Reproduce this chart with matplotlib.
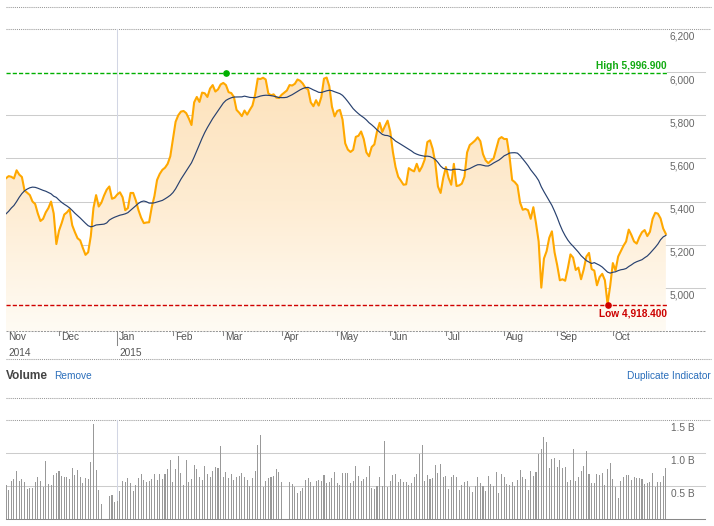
import numpy as np
import pandas as pd
import matplotlib
matplotlib.use('Agg')
import matplotlib.pyplot as plt
from matplotlib.colors import LinearSegmentedColormap
from matplotlib.lines import Line2D

plt.rcParams['font.family'] = ['Liberation Sans', 'DejaVu Sans']

# daily closes, Nov 2014 - Oct 2015
close = [
    5508, 5518, 5515, 5507, 5545, 5525, 5514, 5451, 5441, 5430,
    5400, 5389, 5345, 5310, 5320, 5350, 5370, 5400, 5345, 5203,
    5265, 5300, 5340, 5350, 5365, 5290, 5258, 5230, 5220, 5185,
    5153, 5165, 5240, 5370, 5430, 5377, 5395, 5428, 5455, 5470,
    5413, 5418, 5433, 5443, 5420, 5360, 5370, 5440, 5440, 5405,
    5360, 5325, 5300, 5303, 5304, 5374, 5425, 5500, 5528, 5547,
    5557, 5575, 5610, 5690, 5770, 5800, 5817, 5820, 5810, 5785,
    5755, 5860, 5885, 5862, 5905, 5902, 5885, 5924, 5940, 5910,
    5920, 5943, 5950, 5940, 5907, 5903, 5885, 5825, 5812, 5796,
    5822, 5803, 5825, 5845, 5895, 5970, 5968, 5974, 5966, 5901,
    5893, 5897, 5882, 5880, 5895, 5905, 5915, 5940, 5938, 5946,
    5966, 5960, 5947, 5927, 5920, 5860, 5842, 5870, 5845, 5885,
    5970, 5975, 5935, 5840, 5795, 5820, 5825, 5780, 5670, 5641,
    5630, 5640, 5700, 5705, 5725, 5690, 5628, 5610, 5653, 5665,
    5725, 5765, 5723, 5750, 5775, 5725, 5630, 5560, 5515, 5497,
    5478, 5480, 5555, 5546, 5540, 5575, 5540, 5562, 5595, 5676,
    5684, 5645, 5580, 5470, 5440, 5510, 5560, 5510, 5478, 5575,
    5472, 5475, 5483, 5515, 5628, 5662, 5672, 5683, 5698, 5680,
    5620, 5591, 5578, 5590, 5600, 5645, 5690, 5699, 5690, 5690,
    5610, 5500, 5490, 5475, 5395, 5362, 5366, 5360, 5320, 5374,
    5300, 5215, 5001, 5136, 5170, 5232, 5262, 5165, 5105, 5035,
    5040, 5033, 5090, 5155, 5140, 5083, 5094, 5040, 5085, 5145,
    5162, 5087, 5080, 5012, 5050, 5065, 5035, 4925, 5010, 5115,
    5080, 5145, 5170, 5195, 5215, 5270, 5245, 5215, 5205, 5235,
    5258, 5268, 5240, 5260, 5320, 5348, 5344, 5322, 5275, 5250,
]

# first 19 points of the 20-day average (history before the window)
ma_start = [5343, 5355, 5370, 5382, 5400, 5420, 5437, 5450, 5458, 5464,
            5467, 5466, 5462, 5457, 5452, 5448, 5442, 5436, 5425]

# volume in billions
volume = [
    0.52, 0.44, 0.58, 0.61, 0.73, 0.58, 0.61, 0.56, 0.45, 0.47,
    0.47, 0.56, 0.64, 0.58, 0.49, 0.88, 0.53, 0.52, 0.67, 0.70,
    0.73, 0.65, 0.64, 0.64, 0.61, 0.77, 0.67, 0.74, 0.64, 0.55,
    0.62, 0.61, 0.86, 1.44, 0.74, 0.44, 0.23, 0.00, 0.00, 0.35,
    0.36, 0.25, 0.27, 0.42, 0.58, 0.56, 0.62, 0.55, 0.42, 0.51,
    0.62, 0.68, 0.59, 0.56, 0.58, 0.61, 0.68, 0.59, 0.68, 0.61,
    0.68, 0.75, 0.89, 0.56, 0.76, 0.95, 0.70, 0.52, 0.89, 0.56,
    0.61, 0.82, 0.76, 0.64, 0.59, 0.80, 0.68, 0.64, 0.73, 0.79,
    0.77, 1.10, 0.64, 0.71, 0.62, 0.68, 0.59, 0.64, 0.65, 0.70,
    0.64, 0.59, 0.50, 0.62, 0.73, 1.12, 1.28, 0.48, 0.58, 0.62,
    0.64, 0.65, 0.76, 0.71, 0.56, 0.00, 0.00, 0.56, 0.53, 0.48,
    0.39, 0.42, 0.47, 0.59, 0.62, 0.56, 0.50, 0.58, 0.59, 0.58,
    0.67, 0.55, 0.56, 0.62, 0.71, 0.55, 0.52, 0.70, 0.70, 0.70,
    0.55, 0.58, 0.80, 0.65, 0.58, 0.61, 0.63, 0.80, 0.47, 0.45,
    0.50, 0.63, 0.50, 1.18, 0.49, 0.58, 0.67, 0.68, 0.56, 0.61,
    0.56, 0.56, 0.52, 0.55, 0.64, 0.68, 0.98, 1.12, 0.58, 0.67,
    0.61, 0.62, 0.82, 0.70, 0.83, 0.64, 0.65, 0.45, 0.63, 0.67,
    0.64, 0.44, 0.52, 0.56, 0.58, 0.48, 0.41, 0.50, 0.64, 0.55,
    0.50, 0.42, 0.65, 0.53, 0.50, 0.71, 0.39, 0.68, 0.64, 0.53,
    0.52, 0.56, 0.50, 0.59, 0.74, 0.64, 0.61, 0.44, 0.72, 0.65,
    0.71, 0.98, 1.06, 1.24, 1.17, 0.77, 0.91, 0.92, 0.79, 0.89,
    0.77, 0.79, 0.56, 0.59, 1.06, 0.58, 0.64, 0.73, 0.80, 1.03,
    0.68, 0.55, 0.55, 0.68, 0.67, 0.70, 0.51, 0.76, 0.85, 0.61,
    0.49, 0.32, 0.58, 0.64, 0.67, 0.66, 0.59, 0.64, 0.62, 0.62,
    0.61, 0.53, 0.55, 0.56, 0.70, 0.48, 0.56, 0.56, 0.65, 0.77,
]

month_pos = [0, 20, 42, 63, 82, 104, 125, 145, 166, 188, 208, 229]
month_lbl = ['Nov', 'Dec', 'Jan', 'Feb', 'Mar', 'Apr', 'May', 'Jun', 'Jul', 'Aug', 'Sep', 'Oct']
year_pos = [0, 42]
year_lbl = ['2014', '2015']

price_ticks = [5000, 5200, 5400, 5600, 5800, 6000, 6200]
vol_ticks = [0.5, 1.0, 1.5]
vol_tick_lbl = ['0.5 B', '1.0 B', '1.5 B']

high_idx, high_val = 83, 5996.9
low_idx, low_val = 227, 4918.4

# ---------------------------------------------------------------
W, H = 714, 526
fig = plt.figure(figsize=(W / 100, H / 100), dpi=100)


def fx(px):
    return px / W


def fy(py):
    return 1 - py / H


x = np.arange(len(close))
ma = pd.Series(close, dtype=float).rolling(20).mean().to_numpy()
ma[:len(ma_start)] = ma_start

XMAX = (711 - 6) / 2.65
SOLID_END = (705 - 6) / (711 - 6)
LW = 0.75  # ~1 px

ax = fig.add_axes([fx(6), fy(331), fx(711) - fx(6), fy(7) - fy(331)])
axv = fig.add_axes([fx(6), fy(519), fx(711) - fx(6), fy(398) - fy(519)])
for a in (ax, axv):
    a.set_xlim(0, XMAX)
    a.set_axis_off()
ax.set_ylim(4800, 6302)
axv.set_ylim(0, 1.833)

# gridlines
for v in price_ticks:
    if v == 6200:
        ax.axhline(v, color='#999999', lw=LW, ls=(0, (1, 1)), zorder=0)
    elif v != 6000:
        ax.axhline(v, xmax=SOLID_END, color='#cccccc', lw=LW, zorder=0)
    else:
        ax.axhline(v, xmin=(len(close) - 0.6) / XMAX, xmax=SOLID_END, color='#cccccc', lw=LW, zorder=0)
    ax.text(260, v - 37, f'{v:,}', ha='right', va='center', fontsize=7.3, color='#666666')
ax.axhline(6302, color='#999999', lw=LW, ls=(0, (1, 1)), clip_on=False)
ax.axhline(4800, xmax=SOLID_END, color='#999999', lw=LW, ls=(0, (2, 1)), clip_on=False)

# Jan year-boundary line
ax.plot([42, 42], [4800, 6200], color='#d2d6e4', lw=LW, zorder=0)
ax.plot([42, 42], [4735, 4800], color='#888888', lw=LW, clip_on=False)

# area fill with vertical gradient
poly = ax.fill_between(x, close, 4800, facecolor='none', edgecolor='none')
cmap = LinearSegmentedColormap.from_list('fill', ['#fffbf4', '#feecd2', '#fde2bb'])
grad = np.linspace(0, 1, 256).reshape(-1, 1)
im = ax.imshow(grad, extent=[0, len(close) - 1, 4800, 6000], origin='lower',
               aspect='auto', cmap=cmap, zorder=1)
im.set_clip_path(poly.get_paths()[0], ax.transData)
ax.set_xlim(0, XMAX)
ax.set_ylim(4800, 6302)

ax.plot(x, close, color='#ffa800', lw=1.5, zorder=3, solid_joinstyle='round')
ax.plot(x, ma, color='#28416f', lw=0.85, zorder=4)

# high / low markers
end_frac = (len(close) - 0.6) / XMAX
ax.axhline(high_val, xmax=end_frac, color='#00b000', lw=1.0, ls=(0, (3, 1.5)), zorder=5)
ax.axhline(low_val, xmax=end_frac, color='#d00000', lw=1.0, ls=(0, (3, 1.5)), zorder=5)
ax.plot(high_idx, high_val, 'o', color='#00b000', ms=3.8, zorder=6)
ax.plot(low_idx, low_val, 'o', color='#d00000', ms=3.8, zorder=6, clip_on=False)
ax.text(len(close) - 0.6, high_val + 32, f'High {high_val:,.3f}', ha='right', va='center',
        fontsize=7.3, color='#11aa11', fontweight='bold')
ax.text(len(close) - 0.6, low_val - 36, f'Low {low_val:,.3f}', ha='right', va='center',
        fontsize=7.3, color='#cc0000', fontweight='bold')

# month ticks and labels
for p, m in zip(month_pos, month_lbl):
    if m != 'Jan' and p > 0:
        ax.plot([p, p], [4782, 4800], color='#888888', lw=LW, clip_on=False)
    ax.annotate(m, xy=(p, 4800), xytext=(2, -6), textcoords='offset pixels',
                ha='left', va='center', fontsize=7.3, color='#555555', annotation_clip=False)
for p, yl in zip(year_pos, year_lbl):
    ax.annotate(yl, xy=(p, 4800), xytext=(2, -22), textcoords='offset pixels',
                ha='left', va='center', fontsize=7.3, color='#555555', annotation_clip=False)

# separator between panels
fig.add_artist(Line2D([fx(6), fx(711)], [fy(359), fy(359)], color='#999999', lw=LW, ls=(0, (1, 1))))

# volume panel
fig.text(fx(6), fy(376), 'Volume', ha='left', va='center', fontsize=8.6,
         fontweight='bold', color='#444444')
fig.text(fx(54), fy(376), 'Remove', ha='left', va='center', fontsize=7.3, color='#2a6ebb')
fig.text(fx(711), fy(376), 'Duplicate Indicator', ha='right', va='center', fontsize=7.3, color='#2a6ebb')

axv.axhline(1.833, color='#999999', lw=LW, ls=(0, (1, 1)), clip_on=False)
for v, lbl in zip(vol_ticks, vol_tick_lbl):
    if v == 1.5:
        axv.axhline(v, color='#999999', lw=LW, ls=(0, (1, 1)), zorder=0)
    else:
        axv.axhline(v, xmax=SOLID_END, color='#cccccc', lw=LW, zorder=0)
    axv.text(260, v - 0.12, lbl, ha='right', va='center', fontsize=7.3, color='#666666')
axv.axhline(0, xmax=SOLID_END, color='#888888', lw=LW, clip_on=False)
axv.plot([42, 42], [0, 1.5], color='#d2d6e4', lw=LW, zorder=0)
axv.bar(x, volume, width=0.38, color='#999999', linewidth=0, zorder=2)

fig.savefig('out.png', dpi=100)
